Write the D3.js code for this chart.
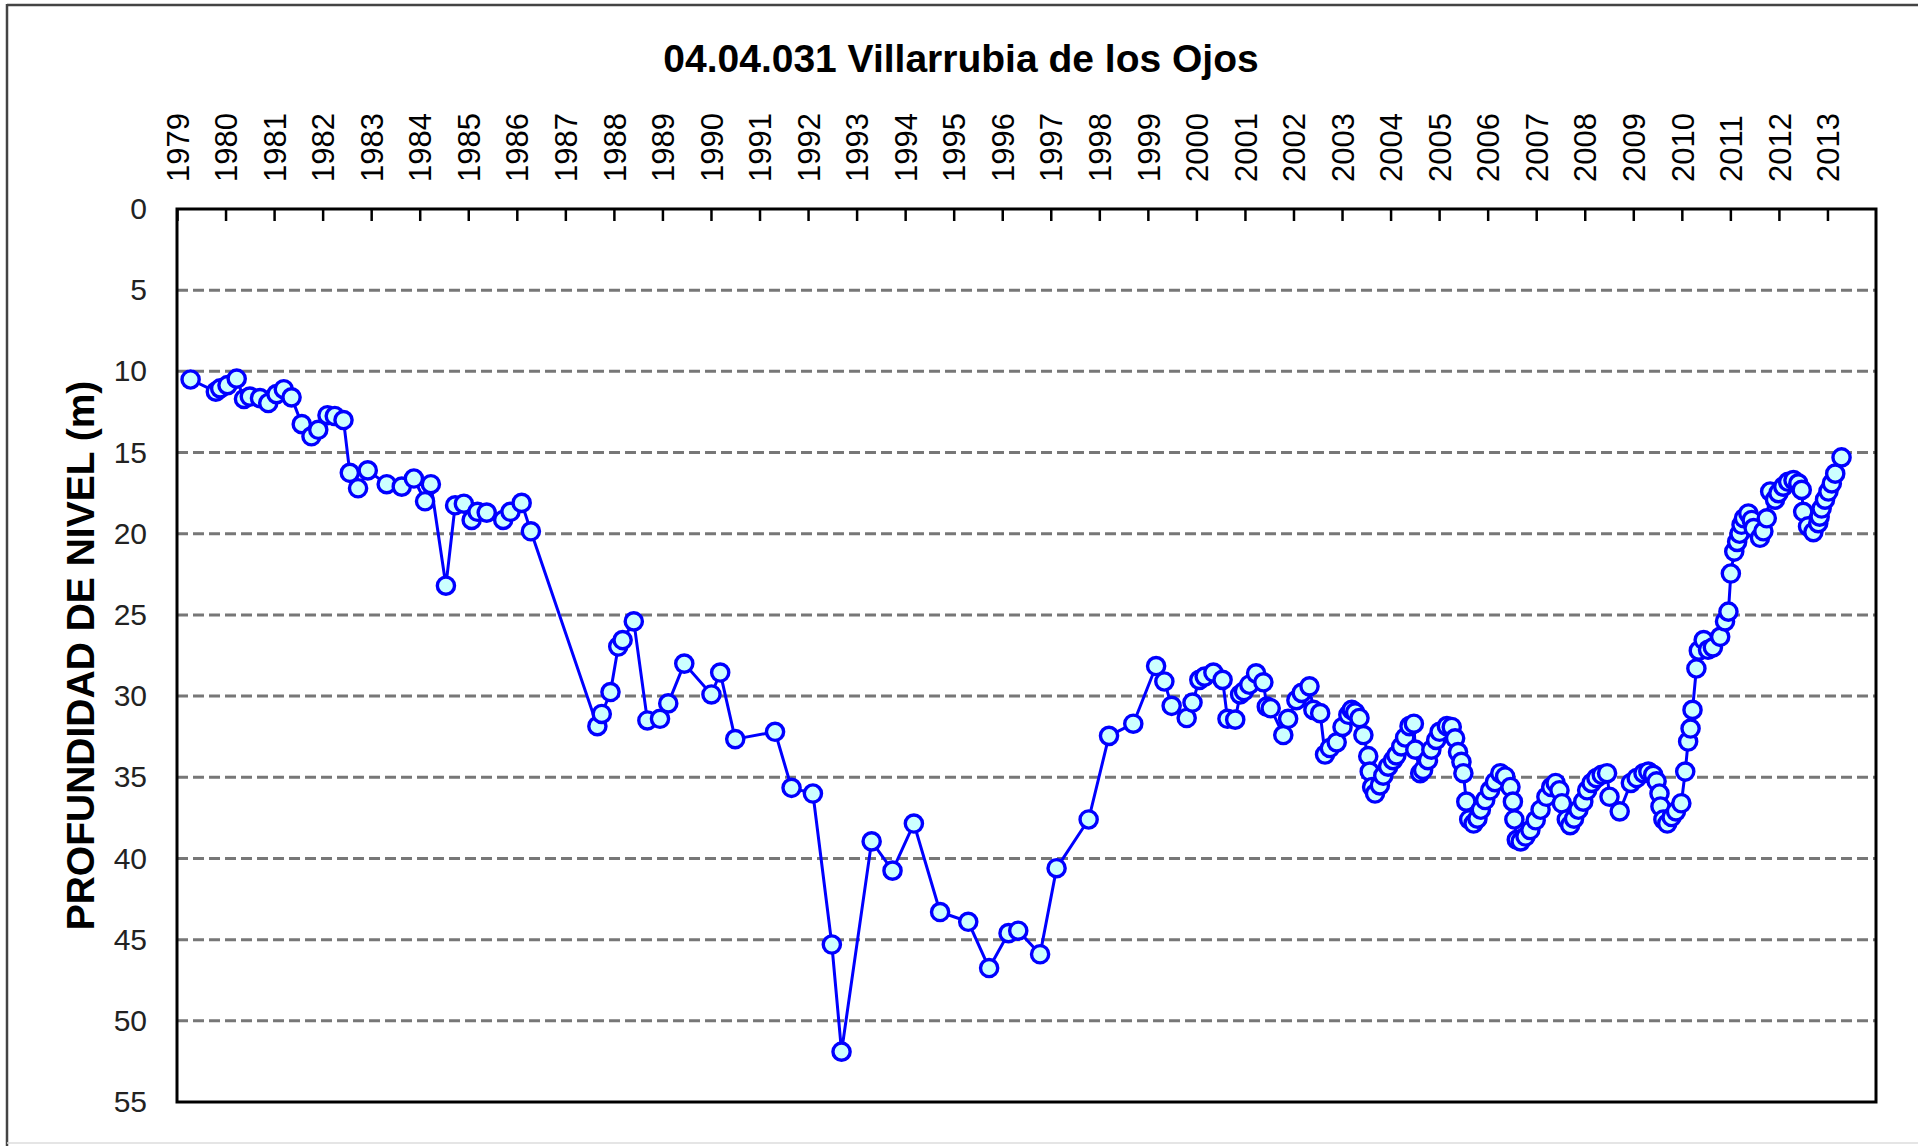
<!DOCTYPE html>
<html>
<head>
<meta charset="utf-8">
<script src="https://cdn.jsdelivr.net/npm/d3@7"></script>
<style>
  body { margin: 0; background: #fff; }
  svg { display: block; font-family: "Liberation Sans", Arial, sans-serif; }
</style>
</head>
<body>
<svg id="chart"></svg>
<script>
const titulo = "04.04.031 Villarrubia de los Ojos";
const etiquetaY = "PROFUNDIDAD DE NIVEL (m)";

// fecha en años decimales
const anios = [
  1979.28, 1979.80, 1979.89, 1980.04, 1980.23, 1980.38, 1980.50, 1980.71, 1980.88, 1981.05,
  1981.20, 1981.36, 1981.57, 1981.77, 1981.91, 1982.10, 1982.25, 1982.43, 1982.56, 1982.73,
  1982.93, 1983.32, 1983.63, 1983.88, 1984.11, 1984.23, 1984.54, 1984.73, 1984.91, 1985.07,
  1985.19, 1985.38, 1985.72, 1985.87, 1986.10, 1986.29,
  1987.66, 1987.75, 1987.93, 1988.09, 1988.18, 1988.41, 1988.69, 1988.95, 1989.12, 1989.45,
  1990.01, 1990.19, 1990.50, 1991.32, 1991.66, 1992.10, 1992.49, 1992.69, 1993.31, 1993.74,
  1994.18, 1994.72, 1995.30, 1995.73, 1996.13, 1996.33, 1996.78, 1997.12,
  1997.78, 1998.20, 1998.70, 1999.17, 1999.34, 1999.49, 1999.80, 1999.92, 2000.06, 2000.17,
  2000.35, 2000.54, 2000.64, 2000.80, 2000.90, 2000.98, 2001.09, 2001.23, 2001.38, 2001.45,
  2001.53, 2001.79, 2001.89, 2002.06, 2002.17, 2002.33, 2002.41, 2002.55, 2002.65, 2002.75,
  2002.89, 2003.01, 2003.13, 2003.20, 2003.27, 2003.36, 2003.44, 2003.54, 2003.57, 2003.62,
  2003.68, 2003.78, 2003.85, 2003.95, 2004.05, 2004.12, 2004.22, 2004.30, 2004.39, 2004.48,
  2004.51, 2004.61, 2004.67, 2004.77, 2004.84, 2004.94, 2005.01, 2005.16, 2005.26, 2005.33,
  2005.39, 2005.46, 2005.50, 2005.56, 2005.62, 2005.71, 2005.79, 2005.86, 2005.95, 2006.05,
  2006.15, 2006.26, 2006.36, 2006.47, 2006.52, 2006.55, 2006.60, 2006.68, 2006.78, 2006.88,
  2006.99, 2007.09, 2007.21, 2007.31, 2007.40, 2007.48, 2007.53, 2007.63, 2007.70, 2007.78,
  2007.87, 2007.97, 2008.05, 2008.14, 2008.24, 2008.35, 2008.46, 2008.51, 2008.72, 2008.95,
  2009.07, 2009.21, 2009.31, 2009.41, 2009.48, 2009.54, 2009.56, 2009.62, 2009.70, 2009.79,
  2009.88, 2009.99, 2010.07, 2010.13, 2010.18, 2010.22, 2010.30, 2010.35, 2010.45, 2010.54,
  2010.64, 2010.79, 2010.89, 2010.96, 2011.01, 2011.08, 2011.14, 2011.19, 2011.23, 2011.28,
  2011.37, 2011.44, 2011.48, 2011.61, 2011.68, 2011.75, 2011.82, 2011.92, 2011.99, 2012.09,
  2012.19, 2012.30, 2012.40, 2012.47, 2012.50, 2012.60, 2012.71, 2012.81, 2012.84, 2012.88,
  2012.95, 2013.02, 2013.09, 2013.16, 2013.29
];

// profundidad del nivel (m)
const profundidad = [
  10.5, 11.25, 11.05, 10.85, 10.45, 11.7, 11.55, 11.65, 11.95, 11.4,
  11.1, 11.6, 13.25, 14.0, 13.6, 12.7, 12.75, 13.0, 16.25, 17.2,
  16.1, 16.95, 17.1, 16.6, 18.0, 16.95, 23.2, 18.25, 18.15, 19.15,
  18.65, 18.7, 19.15, 18.65, 18.1, 19.85,
  31.85, 31.1, 29.75, 26.95, 26.55, 25.4, 31.5, 31.4, 30.45, 28.0,
  29.9, 28.55, 32.65, 32.2, 35.65, 36.0, 45.3, 51.9, 38.95, 40.75,
  37.85, 43.3, 43.9, 46.75, 44.6, 44.45, 45.9, 40.6,
  37.6, 32.45, 31.7, 28.15, 29.1, 30.6, 31.35, 30.4, 29.0, 28.8,
  28.55, 29.0, 31.4, 31.45, 29.9, 29.7, 29.3, 28.6, 29.15, 30.65,
  30.75, 32.4, 31.4, 30.25, 29.8, 29.4, 30.85, 31.05, 33.6, 33.2,
  32.85, 31.9, 31.15, 30.85, 31.0, 31.35, 32.4, 33.7, 34.65, 35.6,
  36.0, 35.5, 34.9, 34.35, 33.95, 33.65, 33.1, 32.55, 31.85, 31.7,
  33.3, 34.75, 34.55, 33.95, 33.3, 32.7, 32.2, 31.85, 31.9, 32.6,
  33.45, 34.05, 34.75, 36.5, 37.6, 37.85, 37.55, 37.0, 36.4, 35.8,
  35.3, 34.75, 34.95, 35.6, 36.5, 37.6, 38.85, 38.95, 38.65, 38.25,
  37.65, 37.0, 36.2, 35.6, 35.35, 35.8, 36.6, 37.6, 37.95, 37.55,
  37.0, 36.5, 35.8, 35.35, 35.05, 34.85, 34.75, 36.2, 37.1, 35.35,
  35.05, 34.75, 34.65, 34.85, 35.25, 36.0, 36.8, 37.6, 37.85, 37.45,
  37.1, 36.6, 34.65, 32.8, 32.0, 30.85, 28.3, 27.2, 26.55, 27.15,
  27.0, 26.35, 25.4, 24.8, 22.45, 21.1, 20.5, 20.0, 19.45, 19.05,
  18.75, 19.15, 19.65, 20.25, 19.85, 19.05, 17.4, 17.9, 17.5, 17.1,
  16.8, 16.7, 16.9, 17.3, 18.65, 19.55, 19.9, 19.35, 18.95, 18.45,
  17.9, 17.4, 16.9, 16.3, 15.3
];

const etiquetasAnio = d3.range(1979, 2014);
const ticksProfundidad = d3.range(0, 56, 5);
const lineasGuia = d3.range(5, 55, 5);

const width = 1918;
const height = 1146;
const margin = { top: 209, right: 42, bottom: 44, left: 177 };

const datos = anios.map((a, i) => ({ anio: a, prof: profundidad[i] }));

const svg = d3.select("#chart")
  .attr("width", width)
  .attr("height", height);

svg.append("rect")
  .attr("width", width)
  .attr("height", height)
  .attr("fill", "#fff");

// marco exterior
svg.append("line")
  .attr("x1", 7).attr("x2", 7).attr("y1", 4).attr("y2", height)
  .attr("stroke", "#444").attr("stroke-width", 2.5);
svg.append("line")
  .attr("x1", 7).attr("x2", width).attr("y1", 5).attr("y2", 5)
  .attr("stroke", "#444").attr("stroke-width", 2.5);
svg.append("line")
  .attr("x1", 7).attr("x2", width).attr("y1", 1143).attr("y2", 1143)
  .attr("stroke", "#ddd").attr("stroke-width", 1.5);

const xScale = d3.scaleLinear()
  .domain([1979, 2014])
  .range([margin.left, width - margin.right]);

const yScale = d3.scaleLinear()
  .domain([0, 55])
  .range([margin.top, height - margin.bottom]);

// lineas de guia
svg.append("g")
  .selectAll("line")
  .data(lineasGuia)
  .join("line")
  .attr("x1", xScale(1979))
  .attr("x2", xScale(2014))
  .attr("y1", d => yScale(d))
  .attr("y2", d => yScale(d))
  .attr("stroke", "#777")
  .attr("stroke-width", 3)
  .attr("stroke-dasharray", "11,5");

// eje superior (años)
const ejeX = svg.append("g")
  .attr("transform", `translate(0,${margin.top})`)
  .call(d3.axisTop(xScale)
    .tickValues(etiquetasAnio)
    .tickSizeInner(-12)
    .tickSizeOuter(0)
    .tickFormat(d3.format("d")));

ejeX.select(".domain").remove();
ejeX.selectAll(".tick line")
  .attr("stroke", "#000")
  .attr("stroke-width", 2.5);
ejeX.selectAll(".tick text")
  .attr("transform", "rotate(-90)")
  .attr("x", 27)
  .attr("y", 0)
  .attr("dy", "0.36em")
  .attr("text-anchor", "start")
  .attr("fill", "#000")
  .style("font-size", "31px");

// eje izquierdo (profundidad)
const ejeY = svg.append("g")
  .attr("transform", `translate(${margin.left},0)`)
  .call(d3.axisLeft(yScale)
    .tickValues(ticksProfundidad)
    .tickSize(0)
    .tickPadding(30));

ejeY.select(".domain").remove();
ejeY.selectAll(".tick text")
  .attr("fill", "#222")
  .style("font-size", "30px");

// marco del grafico
svg.append("rect")
  .attr("x", xScale(1979))
  .attr("y", yScale(0))
  .attr("width", xScale(2014) - xScale(1979))
  .attr("height", yScale(55) - yScale(0))
  .attr("fill", "none")
  .attr("stroke", "#000")
  .attr("stroke-width", 3);

// serie
const line = d3.line()
  .x(d => xScale(d.anio))
  .y(d => yScale(d.prof));

svg.append("path")
  .datum(datos)
  .attr("fill", "none")
  .attr("stroke", "#0000ff")
  .attr("stroke-width", 3)
  .attr("d", line);

svg.append("g")
  .selectAll("circle")
  .data(datos)
  .join("circle")
  .attr("cx", d => xScale(d.anio))
  .attr("cy", d => yScale(d.prof))
  .attr("r", 8.6)
  .attr("fill", "#ccffff")
  .attr("stroke", "#0000ff")
  .attr("stroke-width", 3.4);

// titulo
svg.append("text")
  .attr("x", 961)
  .attr("y", 72)
  .attr("text-anchor", "middle")
  .style("font-size", "39px")
  .style("font-weight", "bold")
  .text(titulo);

// etiqueta eje Y
svg.append("text")
  .attr("transform", `translate(94,${(yScale(0) + yScale(55)) / 2}) rotate(-90)`)
  .attr("text-anchor", "middle")
  .style("font-size", "39px")
  .style("font-weight", "bold")
  .text(etiquetaY);
</script>
</body>
</html>
